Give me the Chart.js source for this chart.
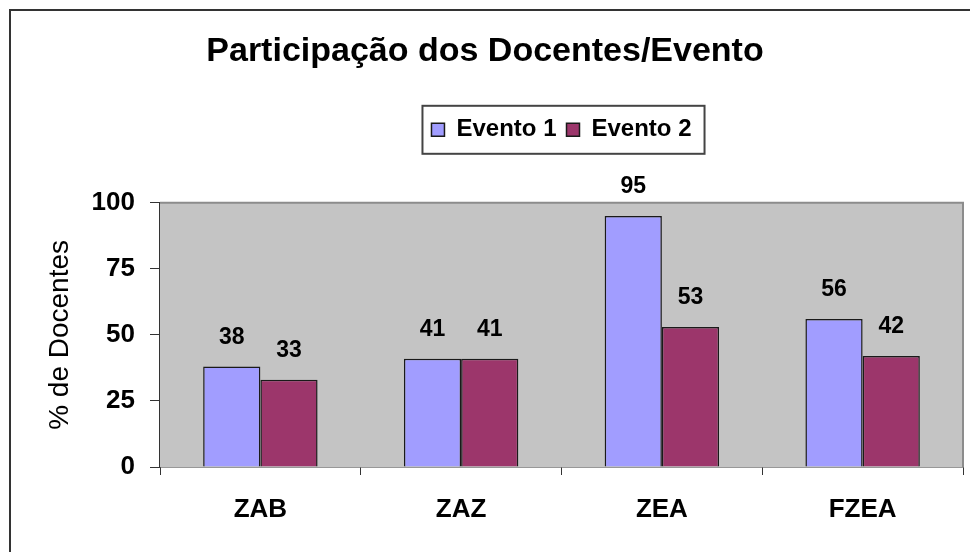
<!DOCTYPE html>
<html lang="pt">
<head>
  <meta charset="UTF-8">
  <title>Participação dos Docentes/Evento</title>
  <script src="https://cdn.jsdelivr.net/npm/chart.js"></script>
  <style>
    body {
        margin: 0;
        background: #fff;
        overflow: hidden;
        font-family: "Liberation Sans", Arial, sans-serif;
    }
    .frame {
        position: absolute;
        left: 9px;
        top: 9px;
        width: 1000px;
        height: 600px;
        border-left: 2px solid #333;
        border-top: 2px solid #333;
    }
    #chart {
        position: absolute;
        left: 0;
        top: 0;
    }
  </style>
</head>
<body>
  <div class="frame"></div>
  <canvas id="chart" width="970" height="552"></canvas>

  <script>
    const categories = ['ZAB', 'ZAZ', 'ZEA', 'FZEA'];
    const evento1 = [38, 41, 95, 56];
    const evento2 = [33, 41, 53, 42];
    const yTicks = [0, 25, 50, 75, 100];

    const FONT = '"Liberation Sans", Arial, sans-serif';

    // gray plot area with thin border on top and right
    const plotBg = {
      id: 'plotBg',
      beforeDatasetsDraw(chart) {
        const { ctx, chartArea: a } = chart;
        ctx.save();
        ctx.fillStyle = '#c4c4c4';
        ctx.fillRect(a.left, a.top, a.right - a.left, a.bottom - a.top);
        ctx.strokeStyle = '#8c8c8c';
        ctx.lineWidth = 2;
        ctx.beginPath();
        ctx.moveTo(a.left, a.top);
        ctx.lineTo(a.right, a.top);
        ctx.lineTo(a.right, a.bottom);
        ctx.stroke();
        ctx.restore();
      }
    };

    // value labels above the bars
    const valueLabels = {
      id: 'valueLabels',
      afterDatasetsDraw(chart) {
        const { ctx } = chart;
        ctx.save();
        ctx.font = 'bold 23px ' + FONT;
        ctx.fillStyle = '#000';
        ctx.textAlign = 'center';
        ctx.textBaseline = 'middle';
        chart.data.datasets.forEach((ds, i) => {
          chart.getDatasetMeta(i).data.forEach((bar, j) => {
            ctx.fillText(ds.data[j], bar.x, bar.y - 29);
          });
        });
        ctx.restore();
      }
    };

    // box round the legend
    const legendFrame = {
      id: 'legendFrame',
      afterDraw(chart) {
        const hb = chart.legend.legendHitBoxes;
        if (!hb || !hb.length) return;
        const left = Math.min(...hb.map(h => h.left)) - 9;
        const right = Math.max(...hb.map(h => h.left + h.width)) + 13;
        const top = hb[0].top - 12;
        const bottom = hb[0].top + hb[0].height + 12;
        const { ctx } = chart;
        ctx.save();
        ctx.strokeStyle = '#444';
        ctx.lineWidth = 2;
        ctx.strokeRect(left, top, right - left, bottom - top);
        ctx.restore();
      }
    };

    new Chart(document.getElementById('chart'), {
      type: 'bar',
      data: {
        labels: categories,
        datasets: [
          {
            label: 'Evento 1',
            data: evento1,
            backgroundColor: '#a19dff',
            borderColor: '#1a1a1a',
            borderWidth: 1.5
          },
          {
            label: 'Evento 2',
            data: evento2,
            backgroundColor: '#9c366b',
            borderColor: '#1a1a1a',
            borderWidth: 1.5
          }
        ]
      },
      options: {
        responsive: false,
        devicePixelRatio: 1,
        animation: false,
        categoryPercentage: 0.57,
        barPercentage: 1,
        layout: { padding: { left: 7, right: 7, top: 0, bottom: 0 } },
        plugins: {
          title: {
            display: true,
            text: 'Participação dos Docentes/Evento',
            color: '#000',
            font: { family: FONT, size: 34, weight: 'bold', lineHeight: 1.2 },
            padding: { top: 31, bottom: 36 }
          },
          // empty spacer between legend and plot
          subtitle: {
            display: true,
            text: '',
            weight: 900,
            font: { size: 13, lineHeight: 1 },
            padding: { top: 0, bottom: 38 }
          },
          legend: {
            position: 'top',
            fullSize: false,
            labels: {
              color: '#000',
              font: { family: FONT, size: 24, weight: 'bold' },
              boxWidth: 13,
              boxHeight: 13,
              padding: 10
            }
          },
          tooltip: { enabled: false }
        },
        scales: {
          x: {
            afterFit(s) { s.height = 85; },
            grid: {
              drawOnChartArea: false,
              drawTicks: true,
              tickLength: 8,
              color: '#333'
            },
            border: { display: true, color: '#333', width: 1.5 },
            ticks: {
              color: '#000',
              padding: 19,
              font: { family: FONT, size: 26, weight: 'bold' }
            }
          },
          y: {
            min: 0,
            max: 100,
            afterFit(s) { s.width = 153; },
            afterBuildTicks(s) { s.ticks = yTicks.map(v => ({ value: v })); },
            grid: {
              drawOnChartArea: false,
              drawTicks: true,
              tickLength: 10,
              color: '#333'
            },
            border: { display: true, color: '#333', width: 1.5 },
            ticks: {
              color: '#000',
              padding: 15,
              font: { family: FONT, size: 26, weight: 'bold' }
            },
            title: {
              display: true,
              text: '% de Docentes',
              color: '#000',
              padding: { top: 36, bottom: 0 },
              font: { family: FONT, size: 28, weight: 'normal', lineHeight: 1.2 }
            }
          }
        }
      },
      plugins: [plotBg, valueLabels, legendFrame]
    });
  </script>
</body>
</html>
